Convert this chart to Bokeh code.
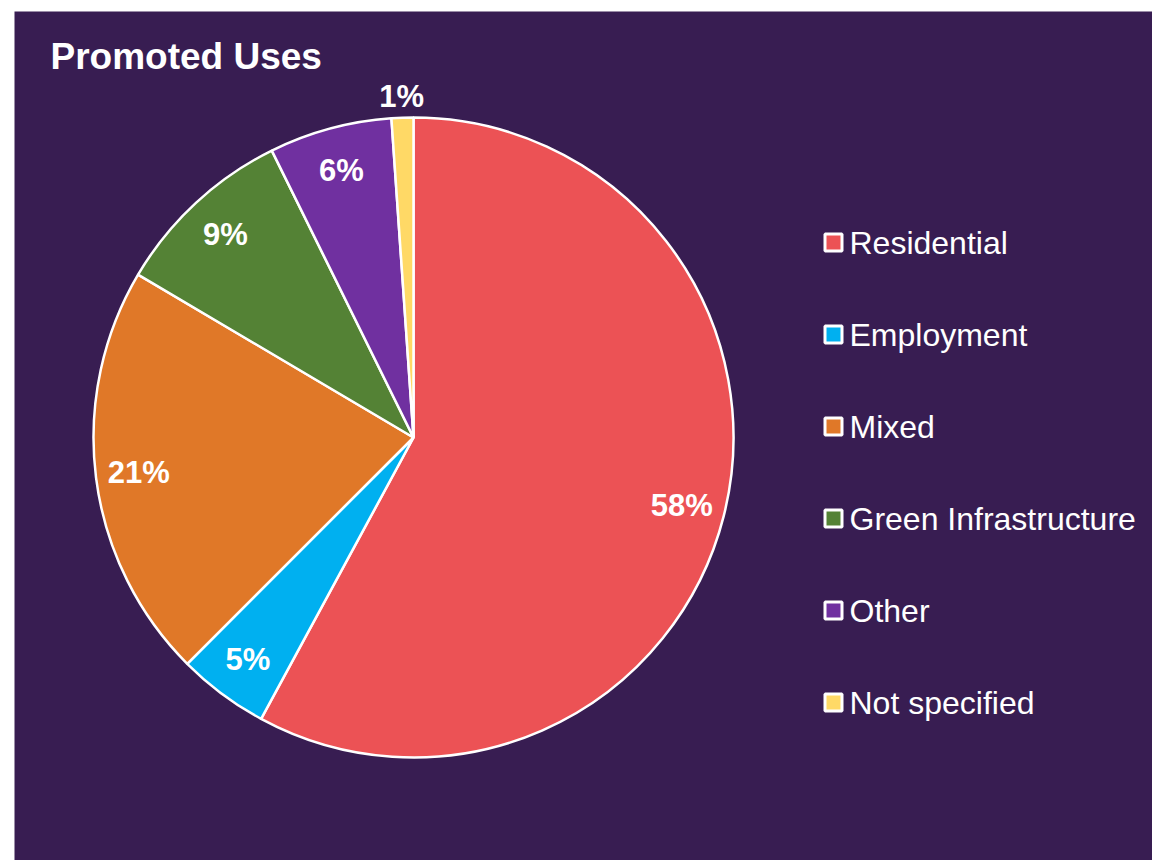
import math
from bokeh.plotting import figure
from bokeh.models import Range1d, Label
from bokeh.core.properties import value
from bokeh.embed import file_html
from bokeh.resources import INLINE

# ---- data ----
title_text = "Promoted Uses"
categories = ["Residential", "Employment", "Mixed", "Green Infrastructure", "Other", "Not specified"]
shares = [57.9, 4.6, 21.0, 9.2, 6.2, 1.1]
colors = ["#EC5255", "#00B0F0", "#E07828", "#548235", "#7030A0", "#FFD966"]

# ---- layout (pixel-like data space) ----
W, H = 1152, 860
LEFT, TOP = 14, 11
BG = "#381D52"

p = figure(width=W, height=H, output_backend="svg", toolbar_location=None,
           x_range=Range1d(LEFT, W), y_range=Range1d(0, H - TOP),
           min_border_left=LEFT, min_border_top=TOP, min_border_right=0, min_border_bottom=0)
p.axis.visible = False
p.grid.visible = False
p.outline_line_color = None
p.background_fill_color = BG
p.border_fill_color = "white"

def py(page_y):
    return H - page_y

cx, cy, R = 413, py(437), 320

total = sum(shares)
cum = 0.0
for cat, s, col in zip(categories, shares, colors):
    a0 = math.pi / 2 - 2 * math.pi * cum / total
    a1 = math.pi / 2 - 2 * math.pi * (cum + s) / total
    p.wedge(x=cx, y=cy, radius=R, start_angle=a0, end_angle=a1, direction="clock",
            fill_color=col, line_color="white", line_width=2.5)
    mid = math.pi / 2 - 2 * math.pi * (cum + s / 2) / total
    rf = 0.865 if s >= 2 else 1.065
    lx = cx + rf * R * math.cos(mid)
    ly = cy + rf * R * math.sin(mid)
    p.text(x=[lx], y=[ly], text=[f"{round(s)}%"], text_color="white",
           text_font=value("Liberation Sans"), text_font_style="bold",
           text_font_size="31px", text_align="center", text_baseline="middle")
    cum += s

# title
p.add_layout(Label(x=50, y=py(56), text=title_text, text_color="white",
                   text_font="Liberation Sans", text_font_style="bold",
                   text_font_size="37px", text_baseline="middle"))

# legend
for i, (cat, col) in enumerate(zip(categories, colors)):
    mid_y = 242 + 92 * i
    p.scatter(x=[833], y=[py(mid_y)], marker="square", size=17,
              fill_color=col, line_color="white", line_width=3)
    p.text(x=[849], y=[py(mid_y)], text=[cat], text_color="white",
           text_font=value("Liberation Sans"), text_font_size="32px",
           text_align="left", text_baseline="middle")

open("out.html", "w").write(file_html(p, INLINE))
